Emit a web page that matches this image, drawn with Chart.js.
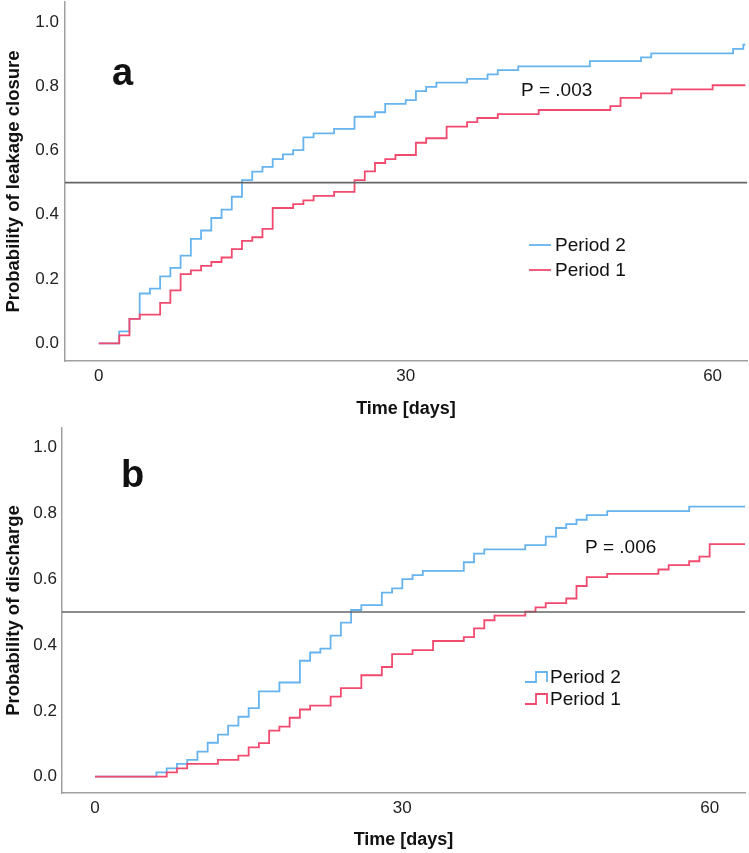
<!DOCTYPE html>
<html lang="en">
<head>
<meta charset="UTF-8" />
<title>Leakage closure and discharge</title>
<script src="https://cdn.jsdelivr.net/npm/chart.js"></script>
<style>
  body { margin: 0; background: #fff; }
  .panel { position: absolute; left: 0; width: 749px; }
  #panelA { top: 0; height: 426px; }
  #panelB { top: 426px; height: 427px; }
</style>
</head>
<body>
<div class="panel" id="panelA"><canvas id="chartA" width="749" height="426"></canvas></div>
<div class="panel" id="panelB"><canvas id="chartB" width="749" height="427"></canvas></div>
<script>
// panel a - leakage closure
const aDaysP2 = [0, 2, 3, 4, 5, 6, 7, 8, 9, 10, 11, 12, 13, 14, 15, 16, 17, 18, 19, 20, 21, 23, 25, 27, 28, 30, 31, 32, 33, 36, 38, 39, 41, 48, 53, 54, 62, 63, 63.2];
const aProbP2 = [0, 0.037, 0.076, 0.155, 0.170, 0.208, 0.235, 0.273, 0.325, 0.351, 0.390, 0.416, 0.456, 0.508, 0.534, 0.549, 0.573, 0.588, 0.601, 0.641, 0.653, 0.667, 0.705, 0.719, 0.745, 0.757, 0.785, 0.798, 0.811, 0.823, 0.837, 0.850, 0.862, 0.878, 0.890, 0.902, 0.916, 0.929, 0.929];
const aDaysP1 = [0, 2, 3, 4, 6, 7, 8, 9, 10, 11, 12, 13, 14, 15, 16, 17, 19, 20, 21, 23, 25, 26, 27, 28, 29, 31, 32, 34, 36, 37, 39, 43, 50, 51, 53, 56, 60, 63.2];
const aProbP1 = [0, 0.025, 0.076, 0.089, 0.126, 0.165, 0.215, 0.227, 0.241, 0.253, 0.267, 0.293, 0.319, 0.330, 0.356, 0.421, 0.433, 0.445, 0.459, 0.471, 0.508, 0.535, 0.561, 0.573, 0.586, 0.624, 0.638, 0.674, 0.688, 0.701, 0.713, 0.726, 0.738, 0.764, 0.778, 0.790, 0.803, 0.803];

// panel b - discharge
const bDaysP2 = [0, 6, 7, 8, 9, 10, 11, 12, 13, 14, 15, 16, 18, 20, 21, 22, 23, 24, 25, 26, 28, 29, 30, 31, 32, 36, 37, 38, 42, 44, 45, 46, 47, 48, 50, 58, 63.45];
const bProbP2 = [0, 0.013, 0.025, 0.039, 0.051, 0.076, 0.103, 0.128, 0.155, 0.182, 0.208, 0.259, 0.286, 0.352, 0.377, 0.389, 0.428, 0.468, 0.506, 0.521, 0.559, 0.572, 0.600, 0.612, 0.625, 0.651, 0.677, 0.690, 0.703, 0.729, 0.755, 0.767, 0.780, 0.794, 0.806, 0.820, 0.820];
const bDaysP1 = [0, 7, 8, 9, 12, 14, 15, 16, 17, 18, 19, 20, 21, 23, 24, 26, 28, 29, 31, 33, 36, 37, 38, 39, 42, 43, 44, 46, 47, 48, 50, 55, 56, 58, 59, 60, 63.45];
const bProbP1 = [0, 0.013, 0.025, 0.039, 0.051, 0.064, 0.089, 0.102, 0.140, 0.152, 0.179, 0.204, 0.216, 0.243, 0.269, 0.308, 0.333, 0.372, 0.384, 0.412, 0.424, 0.450, 0.475, 0.489, 0.501, 0.514, 0.527, 0.541, 0.579, 0.606, 0.616, 0.629, 0.642, 0.654, 0.668, 0.706, 0.706];

const seriesNames = ["Period 2", "Period 1"];
const xTicks = [0, 30, 60];
const yTicks = [0, 0.2, 0.4, 0.6, 0.8, 1.0];
const medianLine = 0.5;

const BLUE = "#66b3ee";
const RED = "#f24a6e";
const FONT = "'Liberation Sans', Arial, sans-serif";

function toPoints(days, probs) {
  return days.map((d, i) => ({ x: d, y: probs[i] }));
}

// text, legend and panel letter drawn inside the plot
const notesPlugin = {
  id: "notes",
  afterDatasetsDraw(chart, args, o) {
    const ctx = chart.ctx;
    ctx.save();
    ctx.fillStyle = "#111";
    ctx.textBaseline = "alphabetic";
    ctx.font = "bold 38px " + FONT;
    ctx.fillText(o.letter, o.letterX, o.letterY);
    ctx.font = "19px " + FONT;
    ctx.textBaseline = "middle";
    ctx.fillText(o.pText, o.pX, o.pY);
    const colors = [BLUE, RED];
    seriesNames.forEach((name, i) => {
      const y = o.legY + i * o.legGap;
      ctx.strokeStyle = colors[i];
      ctx.lineWidth = 1.8;
      ctx.beginPath();
      if (o.stepIcon) {
        ctx.moveTo(o.legX, y + 5);
        ctx.lineTo(o.legX + 11, y + 5);
        ctx.lineTo(o.legX + 11, y - 5);
        ctx.lineTo(o.legX + 22, y - 5);
        ctx.lineTo(o.legX + 22, y + 5);
      } else {
        ctx.moveTo(o.legX, y);
        ctx.lineTo(o.legX + 22, y);
      }
      ctx.stroke();
      ctx.fillStyle = "#111";
      ctx.fillText(name, o.legX + o.textOff, y + 1);
    });
    ctx.restore();
  },
};

function noPad(s) {
  s.paddingTop = 0;
  s.paddingBottom = 0;
  s.paddingLeft = 0;
  s.paddingRight = 0;
}

function makeChart(id, cfg) {
  const line = (label, pts, color) => ({
    label: label,
    data: pts,
    borderColor: color,
    borderWidth: 1.8,
    pointRadius: 0,
    fill: false,
    stepped: "before",
  });
  return new Chart(document.getElementById(id), {
    type: "line",
    data: {
      datasets: [
        {
          label: "median",
          data: [{ x: cfg.xMin, y: medianLine }, { x: cfg.xMax, y: medianLine }],
          borderColor: "#666",
          borderWidth: 1.6,
          pointRadius: 0,
          fill: false,
        },
        line(seriesNames[1], cfg.p1, RED),
        line(seriesNames[0], cfg.p2, BLUE),
      ],
    },
    options: {
      responsive: false,
      animation: false,
      layout: { padding: { top: 2, right: cfg.padRight, left: 0, bottom: 0 } },
      plugins: {
        legend: { display: false },
        tooltip: { enabled: false },
        notes: cfg.notes,
      },
      scales: {
        x: {
          type: "linear",
          min: cfg.xMin,
          max: cfg.xMax,
          grid: { display: false, drawTicks: false },
          border: { color: "#a0a0a0", width: 1.5 },
          afterBuildTicks: (s) => { s.ticks = xTicks.map((v) => ({ value: v })); },
          afterFit: (s) => { s.height = cfg.xAxisH; noPad(s); },
          ticks: { color: "#222", font: { family: FONT, size: 17 }, padding: 5, maxRotation: 0 },
          title: {
            display: true,
            text: "Time [days]",
            color: "#111",
            font: { family: FONT, size: 18, weight: "bold" },
            padding: { top: 0, bottom: cfg.xTitlePad },
          },
        },
        y: {
          min: cfg.yMin,
          max: cfg.yMax,
          grid: { display: false, drawTicks: false },
          border: { color: "#a0a0a0", width: 1.5 },
          afterBuildTicks: (s) => { s.ticks = yTicks.map((v) => ({ value: v })); },
          afterFit: (s) => { s.width = cfg.yAxisW; noPad(s); },
          ticks: {
            color: "#222",
            font: { family: FONT, size: 17 },
            padding: cfg.yTickPad,
            callback: (v) => v.toFixed(1),
          },
          title: {
            display: true,
            text: cfg.yTitle,
            color: "#111",
            font: { family: FONT, size: 18.5, weight: "bold" },
            padding: { top: 3, bottom: 0 },
          },
        },
      },
    },
    plugins: [notesPlugin],
  });
}

makeChart("chartA", {
  p1: toPoints(aDaysP1, aProbP1),
  p2: toPoints(aDaysP2, aProbP2),
  xMin: -3.3, xMax: 63.36,
  yMin: -0.055, yMax: 1.062,
  yAxisW: 65, xAxisH: 65, padRight: 2, xTitlePad: 6, yTickPad: 6,
  yTitle: "Probability of leakage closure",
  notes: { letter: "a", letterX: 112, letterY: 85, pText: "P = .003", pX: 521, pY: 91,
           legX: 529, legY: 245, legGap: 25, textOff: 26, stepIcon: false },
});

makeChart("chartB", {
  p1: toPoints(bDaysP1, bProbP1),
  p2: toPoints(bDaysP2, bProbP2),
  xMin: -3.22, xMax: 63.45,
  yMin: -0.0495, yMax: 1.0586,
  yAxisW: 62, xAxisH: 60, padRight: 4, xTitlePad: 2, yTickPad: 5,
  yTitle: "Probability of discharge",
  notes: { letter: "b", letterX: 121, letterY: 61, pText: "P = .006", pX: 585, pY: 122,
           legX: 525, legY: 251, legGap: 22, textOff: 25, stepIcon: true },
});
</script>
</body>
</html>
